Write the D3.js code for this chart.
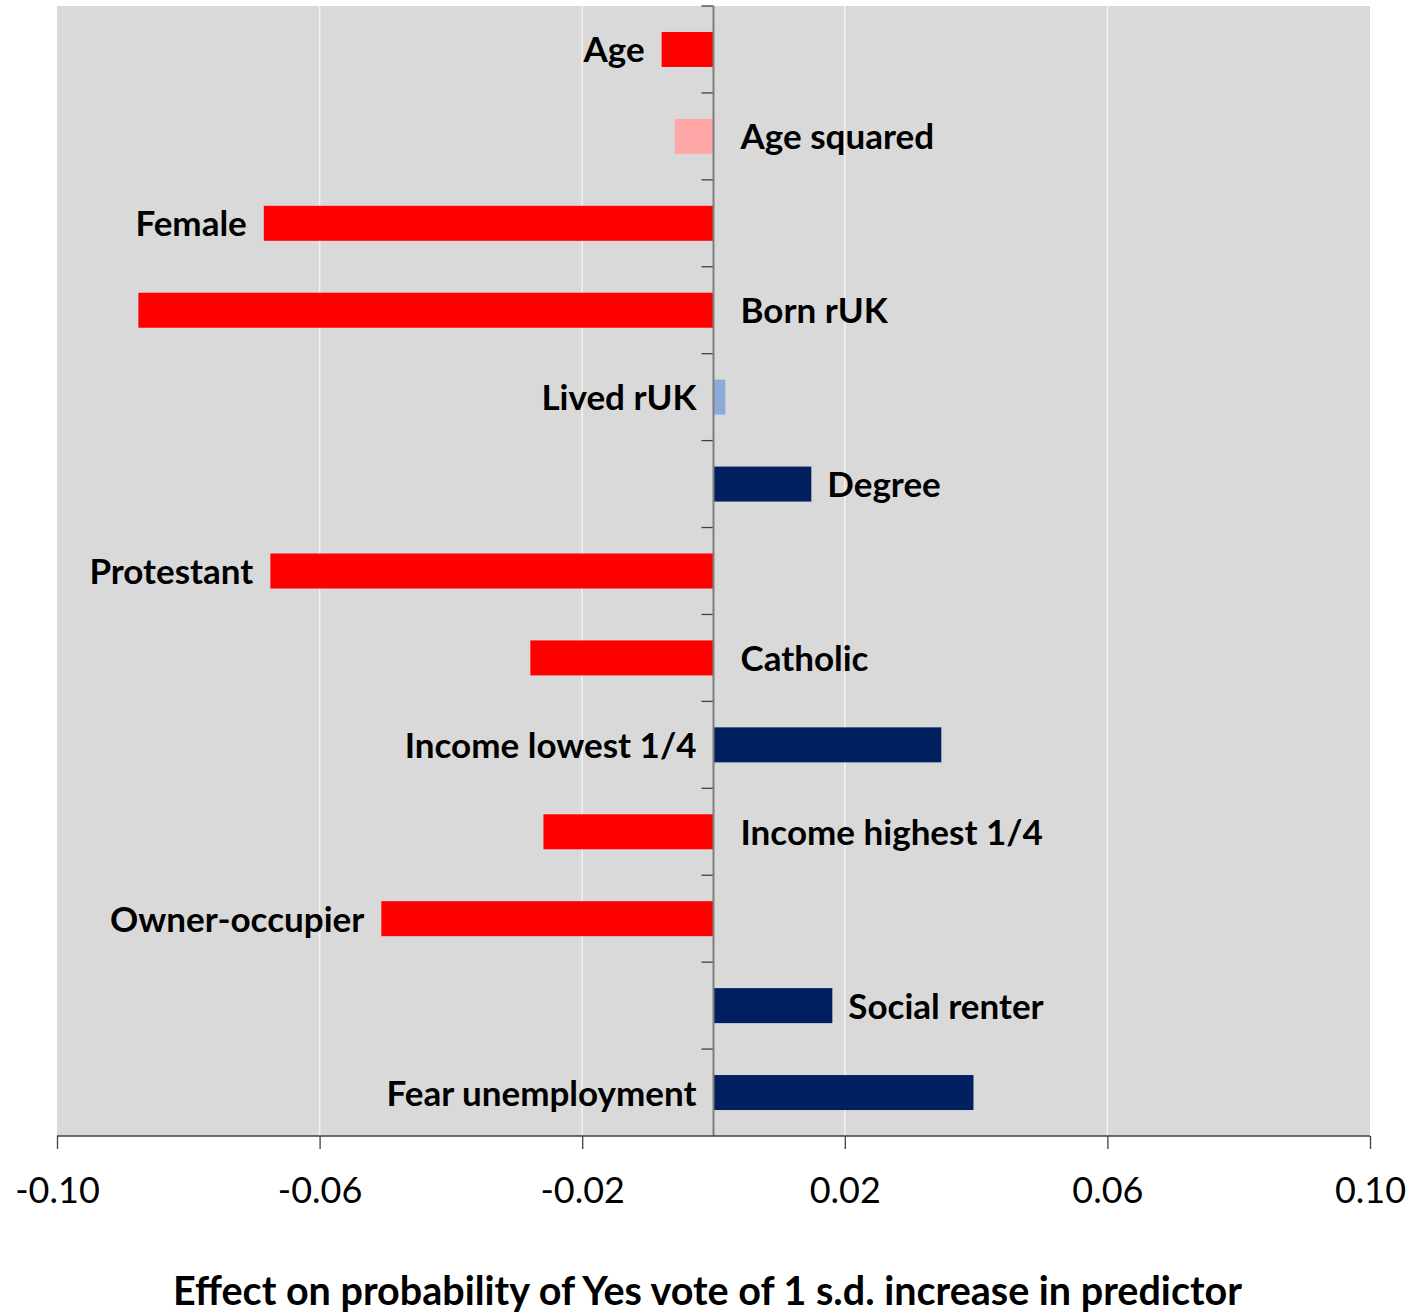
<!DOCTYPE html>
<html><head><meta charset="utf-8">
<script src="https://cdn.jsdelivr.net/npm/d3@7"></script>
<style>body{margin:0;background:#fff}</style>
</head><body>
<svg id="c" width="1413" height="1316"></svg>
<script>
const categories = ["Age","Age squared","Female","Born rUK","Lived rUK","Degree","Protestant","Catholic","Income lowest 1/4","Income highest 1/4","Owner-occupier","Social renter","Fear unemployment"];
const values = [-0.0079,-0.0059,-0.0685,-0.0876,0.0018,0.0149,-0.0675,-0.0279,0.0347,-0.0259,-0.0506,0.0181,0.0396];
const significant = [true,false,true,true,false,true,true,true,true,true,true,true,true];
const labelSide = ["left","right","left","right","left","right","left","right","left","right","left","right","left"];
const tickValues = [-0.10,-0.06,-0.02,0.02,0.06,0.10];
const xTitle = "Effect on probability of Yes vote of 1 s.d. increase in predictor";

const svg = d3.select("#c");
const L=57,R=1370,T=6,B=1136;
const x = d3.scaleLinear().domain([-0.10,0.10]).range([L,R]);
const yb = d3.scaleBand().domain(categories).range([T,B]);

function color(v,s){ if(v<0) return s?"#ff0000":"#ffa7a7"; return s?"#002060":"#8eaadb"; }
const FONT = "Lato, 'Open Sans', sans-serif";

svg.append("rect").attr("x",L).attr("y",T).attr("width",R-L).attr("height",B-T).attr("fill","#d9d9d9");
svg.append("g").selectAll("line").data(tickValues.filter(t=>Math.abs(t)<0.099)).join("line")
  .attr("x1",d=>x(d)).attr("x2",d=>x(d)).attr("y1",T).attr("y2",B).attr("stroke","#f2f2f2").attr("stroke-width",1.5);

const data = categories.map((c,i)=>({c,v:values[i],s:significant[i],side:labelSide[i]}));
svg.append("g").selectAll("rect").data(data).join("rect")
  .attr("x",d=>x(Math.min(0,d.v))).attr("width",d=>Math.abs(x(d.v)-x(0)))
  .attr("y",d=>yb(d.c)+yb.bandwidth()/2-17.5).attr("height",35)
  .attr("fill",d=>color(d.v,d.s));

// y axis at zero
const yAxis = d3.axisLeft(yb).tickValues(categories).tickSize(12).tickFormat("");
const yg = svg.append("g").attr("transform",`translate(${x(0)},0)`).call(yAxis);
yg.select(".domain").remove();
yg.selectAll(".tick").attr("transform",d=>`translate(0,${yb(d)})`);
yg.selectAll(".tick line").attr("stroke","#404040").attr("stroke-width",1.3);
svg.append("line").attr("x1",x(0)).attr("x2",x(0)).attr("y1",T).attr("y2",B).attr("stroke","#7f7f7f").attr("stroke-width",2);

// x axis
const fmt = d => d3.format(".2f")(d).replace("\u2212","-");
const xg = svg.append("g").attr("transform",`translate(0,${B})`)
  .call(d3.axisBottom(x).tickValues(tickValues).tickSize(13).tickPadding(28).tickFormat(fmt));
xg.select(".domain").attr("stroke","#404040").attr("stroke-width",1.5).attr("d",`M${L},0H${R}`);
xg.selectAll(".tick line").attr("stroke","#404040").attr("stroke-width",1.3);
xg.selectAll(".tick text").attr("font-family",FONT).attr("font-size",36).attr("fill","#000");

// labels
svg.append("g").selectAll("text").data(data).join("text")
  .attr("x",d=> d.side==="left" ? x(Math.min(0,d.v))-17 : (d.v>0 ? x(d.v)+16 : x(0)+27))
  .attr("y",d=>yb(d.c)+yb.bandwidth()/2+4)
  .attr("dominant-baseline","middle")
  .attr("text-anchor",d=>d.side==="left"?"end":"start")
  .attr("font-family",FONT).attr("font-weight","bold").attr("font-size",35)
  .text(d=>d.c);

svg.append("text").attr("x",(L+R)/2 - 6).attr("y",1305).attr("text-anchor","middle")
  .attr("font-family",FONT).attr("font-weight","bold").attr("font-size",39.5)
  .text(xTitle);
</script>
</body></html>
